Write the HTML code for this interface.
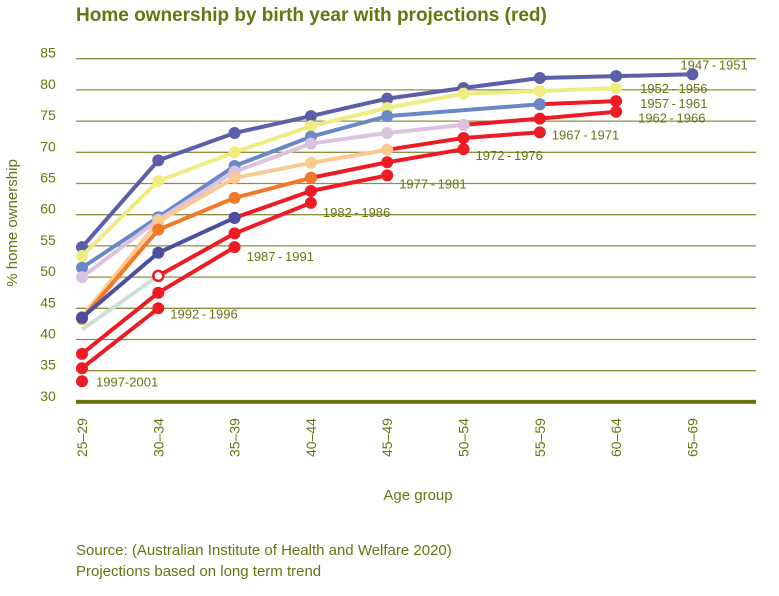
<!DOCTYPE html>
<html><head><meta charset="utf-8"><style>
html,body{margin:0;padding:0;background:#fff;}
svg{display:block;font-family:"Liberation Sans",sans-serif;}
</style></head><body>
<svg id="chart" width="779" height="596" viewBox="0 0 779 596" xmlns="http://www.w3.org/2000/svg">
<text x="76" y="21" font-size="19" font-weight="bold" fill="#6b7311">Home ownership by birth year with projections (red)</text>
<g id="grid"></g><g id="series"></g><g id="labels"></g>
<text transform="translate(17,223) rotate(-90)" text-anchor="middle" font-size="15" fill="#6b7311">% home ownership</text>
<text x="418" y="500" text-anchor="middle" font-size="15" fill="#6b7311">Age group</text>
<text x="76" y="555" font-size="15" fill="#6b7311">Source: (Australian Institute of Health and Welfare 2020)</text>
<text x="76" y="576" font-size="15" fill="#6b7311">Projections based on long term trend</text>
</svg>
<script>
const categories=["25-29","30-34","35-39","40-44","45-49","50-54","55-59","60-64","65-69"];
const yTicks=[30,35,40,45,50,55,60,65,70,75,80,85];
// each cohort: historical values (colored) then projected values (red); null = no point
const cohortNames=["1947-1951","1952-1956","1957-1961","1962-1966","1967-1971","1972-1976","1977-1981","1982-1986","1987-1991","1992-1996","1997-2001"];
const cohortColors=["#5b5ea8","#f0ec82","#6a88c8","#dcc2e0","#fcca90","#f07a2a","#4a4fa0","#c8e0d6","#ed1c24","#ed1c24","#ed1c24"];
const historical=[
 [54.8,68.7,73.1,75.8,78.6,80.3,81.9,82.2,82.5],
 [53.4,65.4,70.0,74.2,77.1,79.4,79.8,80.3,null],
 [51.5,59.6,67.8,72.5,75.8,null,77.7,null,null],
 [50.0,59.2,66.9,71.4,73.1,74.4,null,null,null],
 [43.6,58.9,65.9,68.3,70.4,null,null,null,null],
 [43.3,57.6,62.7,65.9,null,null,null,null,null],
 [43.5,53.9,59.5,null,null,null,null,null,null],
 [41.6,50.2,null,null,null,null,null,null,null],
 [null,null,null,null,null,null,null,null,null],
 [null,null,null,null,null,null,null,null,null],
 [null,null,null,null,null,null,null,null,null]
];
const projected=[
 [null,null,null,null,null,null,null,null,null],
 [null,null,null,null,null,null,null,null,null],
 [null,null,null,null,null,null,77.7,78.2,null],
 [null,null,null,null,null,74.4,75.4,76.5,null],
 [null,null,null,null,70.4,72.3,73.2,null,null],
 [null,null,null,65.9,68.4,70.5,null,null,null],
 [null,null,59.5,63.8,66.3,null,null,null,null],
 [null,50.2,57.0,61.9,null,null,null,null,null],
 [37.7,47.5,54.8,null,null,null,null,null,null],
 [35.4,45.0,null,null,null,null,null,null,null],
 [33.3,null,null,null,null,null,null,null,null]
];
const labelIdx=[8,7,7,7,6,5,4,3,2,1,0];
const labelSrc=["h","h","p","p","p","p","p","p","p","p","p"];

const NS="http://www.w3.org/2000/svg";
const x0=82,dx=76.3,y85=58.7,ppu=6.24;
function xs(i){return x0+i*dx;}
function ys(v){return y85+(85-v)*ppu;}
function mk(tag,attrs,parent){const e=document.createElementNS(NS,tag);for(const k in attrs)e.setAttribute(k,attrs[k]);parent.appendChild(e);return e;}
const grid=document.getElementById('grid'),ser=document.getElementById('series'),lab=document.getElementById('labels');
yTicks.forEach(t=>{
 const y=ys(t);
 const l=mk('line',{x1:76,x2:756,y1:y,y2:y,stroke:t===30?'#6b7311':'#8b9140','stroke-width':t===30?4:1.3},grid);
 
 
 const tx=mk('text',{x:48,y:t===30?y-1:y-1,'text-anchor':'middle','font-size':14,fill:'#6b7311'},grid);
 tx.textContent=t;
 
 
});
categories.forEach((c,i)=>{
 const tx=mk('text',{transform:`translate(${xs(i)+5},${457}) rotate(-90)`,'font-size':14,fill:'#6b7311'},grid);
 tx.textContent=c.replace('-','–');
 
 
});
function drawPart(vals,color,name){
 const pts=[];vals.forEach((v,i)=>{if(v!==null)pts.push([xs(i),ys(v)]);});
 if(pts.length>1){
  const p=mk('polyline',{points:pts.map(q=>q.join(',')).join(' '),fill:'none',stroke:color,'stroke-width':4,'stroke-linejoin':'round'},ser);
  
  
 }
 return pts;
}
function drawDots(vals,color,name,skip){
 vals.forEach((v,i)=>{if(v===null||(skip&&skip(i)))return;
  const c=mk('circle',{cx:xs(i),cy:ys(v),r:6,fill:color},ser);
  
  
 });
}
for(let k=0;k<cohortNames.length;k++){
 const nm='cohort-'+cohortNames[k];
 const hasHistDots=k!==7;
 drawPart(historical[k],cohortColors[k],nm+'-historical');
 drawPart(projected[k],'#ed1c24',nm+'-projected');
 if(k===2) drawDots(historical[k],cohortColors[k],nm,i=>i===5);
 else if(hasHistDots) drawDots(historical[k],cohortColors[k],nm);
 drawDots(projected[k],'#ed1c24',nm,i=>historical[k][i]!==null && k!==7 && !(k===5&&i===3));
 if(k===7){
  const h=mk('circle',{cx:xs(1),cy:ys(projected[k][1]),r:5,fill:'#fff',stroke:'#ed1c24','stroke-width':2.5},ser);
  
  
 }
}
[[2,6],[3,5],[4,4],[5,3],[6,2]].forEach(([k,i])=>{
 const c=mk('circle',{cx:xs(i),cy:ys(historical[k][i]),r:6,fill:cohortColors[k]},ser);
 
 
});
const labelOffsets=[[-12,-10],[24,0],[24,2],[22,6],[12,2],[12,6],[12,8],[12,9],[12,9],[12,5],[14,0]];
cohortNames.forEach((n,k)=>{
 const i=labelIdx[k];
 const v=(labelSrc[k]==='h'?historical:projected)[k][i];
 const t=mk('text',{x:xs(i)+labelOffsets[k][0],y:ys(v)+labelOffsets[k][1]+5,'font-size':13,fill:'#6b7311'},lab);
 t.textContent=(k===10)?'1997-2001':n.replace('-','\u2009-\u2009');
 
 
});
</script>
</body></html>
